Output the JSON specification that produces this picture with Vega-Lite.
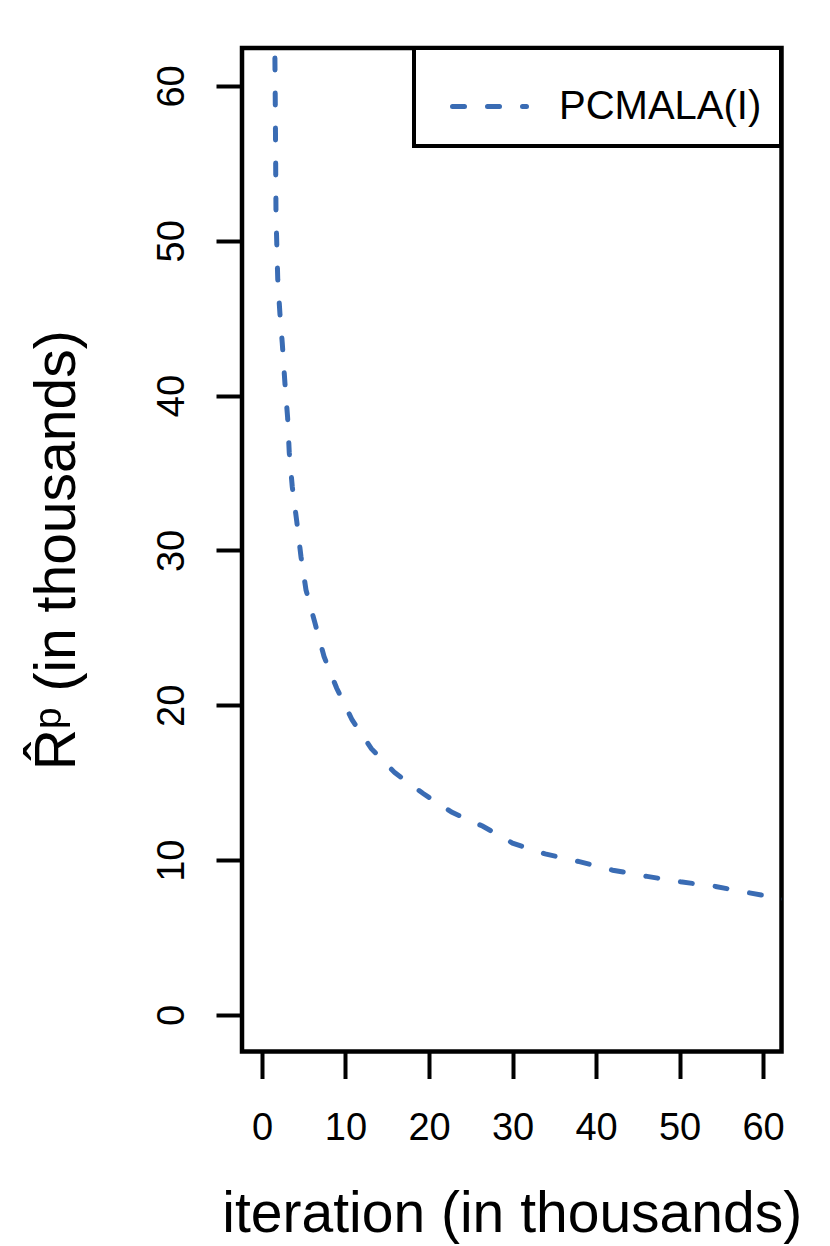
{
  "$schema": "https://vega.github.io/schema/vega-lite/v6.json",
  "width": 539.5,
  "height": 1003.5,
  "autosize": {"type": "none"},
  "padding": {"left": 242, "top": 48, "right": 48.5, "bottom": 194.5},
  "background": "white",
  "config": {
    "font": "Liberation Sans",
    "view": {"stroke": "black", "strokeWidth": 4.5},
    "axis": {"grid": false, "domain": false, "tickColor": "black", "tickWidth": 4, "labelColor": "black", "titleColor": "black", "labelFont": "Liberation Sans", "titleFont": "Liberation Sans", "titleFontWeight": "normal", "labelFlush": false, "labelOverlap": false}
  },
  "data": {
    "values": [
      {"x": 1.55, "y": 61.8, "series": "PCMALA(I)"},
      {"x": 1.6, "y": 58.5, "series": "PCMALA(I)"},
      {"x": 1.68, "y": 51.7, "series": "PCMALA(I)"},
      {"x": 1.89, "y": 47.5, "series": "PCMALA(I)"},
      {"x": 2.15, "y": 45.3, "series": "PCMALA(I)"},
      {"x": 2.43, "y": 43.4, "series": "PCMALA(I)"},
      {"x": 2.75, "y": 40.8, "series": "PCMALA(I)"},
      {"x": 3.07, "y": 38.6, "series": "PCMALA(I)"},
      {"x": 3.27, "y": 36.3, "series": "PCMALA(I)"},
      {"x": 3.63, "y": 34.1, "series": "PCMALA(I)"},
      {"x": 4.16, "y": 31.9, "series": "PCMALA(I)"},
      {"x": 4.67, "y": 29.6, "series": "PCMALA(I)"},
      {"x": 5.27, "y": 27.45, "series": "PCMALA(I)"},
      {"x": 6.35, "y": 25.3, "series": "PCMALA(I)"},
      {"x": 7.43, "y": 23.15, "series": "PCMALA(I)"},
      {"x": 8.95, "y": 21.1, "series": "PCMALA(I)"},
      {"x": 10.8, "y": 19.05, "series": "PCMALA(I)"},
      {"x": 13.1, "y": 17.2, "series": "PCMALA(I)"},
      {"x": 15.9, "y": 15.65, "series": "PCMALA(I)"},
      {"x": 19.3, "y": 14.3, "series": "PCMALA(I)"},
      {"x": 22.7, "y": 13.1, "series": "PCMALA(I)"},
      {"x": 26.4, "y": 12.2, "series": "PCMALA(I)"},
      {"x": 30.0, "y": 11.1, "series": "PCMALA(I)"},
      {"x": 33.9, "y": 10.4, "series": "PCMALA(I)"},
      {"x": 38.0, "y": 9.9, "series": "PCMALA(I)"},
      {"x": 42.0, "y": 9.35, "series": "PCMALA(I)"},
      {"x": 46.1, "y": 8.95, "series": "PCMALA(I)"},
      {"x": 50.1, "y": 8.6, "series": "PCMALA(I)"},
      {"x": 54.3, "y": 8.3, "series": "PCMALA(I)"},
      {"x": 58.2, "y": 7.9, "series": "PCMALA(I)"},
      {"x": 61.8, "y": 7.55, "series": "PCMALA(I)"},
      {"x": 63.0, "y": 7.45, "series": "PCMALA(I)"}
    ]
  },
  "mark": {"type": "line", "clip": true, "strokeWidth": 5, "strokeDash": [12, 23], "strokeCap": "round"},
  "encoding": {
    "x": {
      "field": "x", "type": "quantitative",
      "scale": {"domain": [-2.39, 62.2], "nice": false, "zero": false},
      "axis": {"title": "iteration (in thousands)", "values": [0, 10, 20, 30, 40, 50, 60], "tickSize": 27, "labelFontSize": 38, "labelPadding": 31, "titleFontSize": 57, "titleBaseline": "alphabetic", "titlePadding": 84}
    },
    "y": {
      "field": "y", "type": "quantitative",
      "scale": {"domain": [-2.36, 62.45], "nice": false, "zero": false},
      "axis": {"title": "R\u0302\u1d56 (in thousands)", "values": [0, 10, 20, 30, 40, 50, 60], "tickSize": 26, "labelFontSize": 38, "labelAngle": 270, "labelAlign": "center", "labelBaseline": "alphabetic", "labelPadding": 33, "titleFontSize": 57, "titleBaseline": "alphabetic", "titlePadding": 79}
    },
    "color": {
      "field": "series", "type": "nominal",
      "scale": {"domain": ["PCMALA(I)"], "range": ["#3a6cb4"]},
      "legend": {
        "title": null, "orient": "none", "legendX": 172, "legendY": 0,
        "padding": 19, "strokeColor": "black", "fillColor": "white",
        "symbolType": "stroke", "symbolSize": 5476, "symbolStrokeWidth": 5, "symbolDash": [12, 23],
        "symbolOffset": 17, "labelOffset": 30, "labelFontSize": 40, "labelLimit": 400, "labelColor": "black", "labelFont": "Liberation Sans",
        "encode": {"legend": {"update": {"strokeWidth": {"value": 4}}}, "symbols": {"update": {"strokeCap": {"value": "round"}}}}
      }
    }
  }
}
